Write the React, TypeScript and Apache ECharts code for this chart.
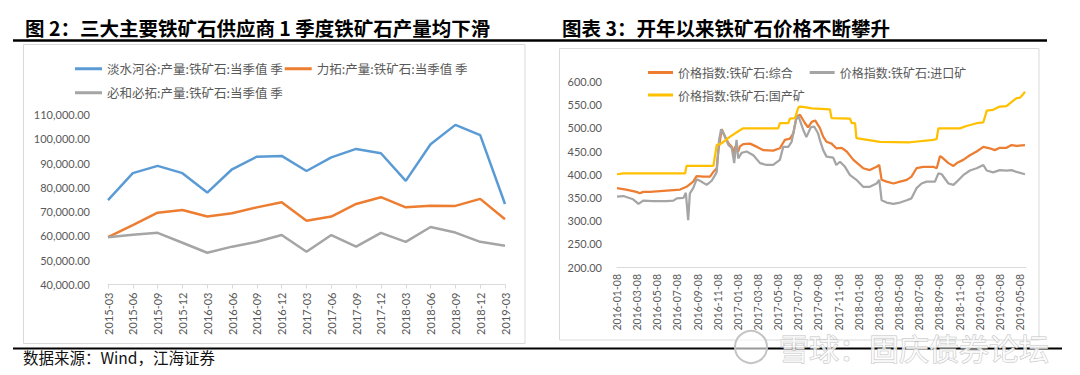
import React, { useEffect, useRef } from "react";
import * as echarts from "echarts";

// ---------- Left chart: quarterly output ----------
const quarters = [
  "2015-03", "2015-06", "2015-09", "2015-12", "2016-03", "2016-06", "2016-09", "2016-12",
  "2017-03", "2017-06", "2017-09", "2017-12", "2018-03", "2018-06", "2018-09", "2018-12", "2019-03",
];
const valeOutput = [74800, 85900, 88900, 85900, 77900, 87500, 92700, 93000, 86800, 92400, 95900, 94100, 82700, 97800, 105800, 101600, 73200];
const rioOutput = [59500, 64500, 69600, 70700, 68000, 69400, 71800, 73900, 66300, 68000, 73200, 76000, 71800, 72500, 72400, 75300, 66900];
const bhpOutput = [59500, 60500, 61300, 57200, 53100, 55600, 57600, 60400, 53500, 60400, 55600, 61300, 57600, 63700, 61400, 57600, 56000];

// ---------- Right chart: price indices ----------
const compositeDates = [
  "2016-01-08", "2016-02-05", "2016-03-06", "2016-03-16", "2016-03-26", "2016-04-16", "2016-07-16", "2016-08-05",
  "2016-08-25", "2016-09-05", "2016-09-25", "2016-10-15", "2016-10-25", "2016-11-05", "2016-11-10", "2016-11-20",
  "2016-11-30", "2016-12-10", "2016-12-20", "2016-12-25", "2016-12-30", "2017-01-09", "2017-01-14", "2017-01-24",
  "2017-02-14", "2017-03-05", "2017-03-24", "2017-04-23", "2017-05-13", "2017-05-28", "2017-06-13", "2017-06-23",
  "2017-07-03", "2017-07-13", "2017-07-28", "2017-08-07", "2017-08-18", "2017-08-28", "2017-09-12", "2017-09-22",
  "2017-10-02", "2017-10-17", "2017-11-01", "2017-11-17", "2017-12-02", "2017-12-22", "2018-01-21", "2018-02-11",
  "2018-03-01", "2018-03-09", "2018-03-16", "2018-03-31", "2018-04-21", "2018-05-11", "2018-05-31", "2018-06-15",
  "2018-06-30", "2018-07-20", "2018-08-20", "2018-08-30", "2018-09-10", "2018-09-15", "2018-10-05", "2018-10-20",
  "2018-10-30", "2018-11-19", "2018-12-09", "2018-12-29", "2019-01-19", "2019-02-08", "2019-02-23", "2019-03-08",
  "2019-03-28", "2019-04-13", "2019-04-28", "2019-05-23",
];
const compositeValues = [
  370, 367, 362, 359, 362, 362, 367, 373,
  384, 396, 395, 395, 405, 413, 452, 497,
  481, 467, 459, 445, 460, 449, 460, 465,
  466, 459, 452, 451, 456, 474, 477, 488,
  525, 528, 510, 501, 513, 516, 500, 481,
  470, 466, 456, 457, 449, 431, 413, 409,
  416, 420, 388, 384, 380, 384, 388, 395,
  413, 416, 416, 413, 439, 437, 424, 418,
  424, 431, 441, 449, 459, 456, 452, 457,
  457, 463, 461, 463,
];

const importDates = [
  "2016-01-08", "2016-01-27", "2016-02-26", "2016-03-12", "2016-03-26", "2016-04-26", "2016-06-06", "2016-06-26",
  "2016-07-06", "2016-07-26", "2016-08-03", "2016-08-10", "2016-08-15", "2016-08-25", "2016-09-05", "2016-09-15",
  "2016-10-05", "2016-10-20", "2016-10-30", "2016-11-05", "2016-11-12", "2016-11-18", "2016-11-25", "2016-12-10",
  "2016-12-20", "2016-12-27", "2017-01-04", "2017-01-09", "2017-01-19", "2017-02-04", "2017-02-24", "2017-03-14",
  "2017-04-03", "2017-04-23", "2017-05-13", "2017-05-23", "2017-06-08", "2017-06-18", "2017-07-01", "2017-07-08",
  "2017-07-23", "2017-08-02", "2017-08-15", "2017-08-25", "2017-09-07", "2017-09-12", "2017-09-22", "2017-10-02",
  "2017-10-22", "2017-11-01", "2017-11-12", "2017-11-27", "2017-12-12", "2018-01-01", "2018-01-21", "2018-02-11",
  "2018-03-01", "2018-03-09", "2018-03-16", "2018-03-31", "2018-04-21", "2018-05-11", "2018-05-31", "2018-06-15",
  "2018-06-30", "2018-07-15", "2018-07-30", "2018-08-25", "2018-09-05", "2018-09-15", "2018-10-05", "2018-10-20",
  "2018-10-30", "2018-11-19", "2018-12-09", "2018-12-29", "2019-01-19", "2019-01-29", "2019-02-18", "2019-03-08",
  "2019-03-28", "2019-04-13", "2019-04-28", "2019-05-23",
];
const importValues = [
  352, 353, 346, 336, 343, 342, 342, 343,
  348, 349, 360, 301, 359, 370, 389, 386,
  377, 386, 398, 405, 474, 497, 488, 463,
  456, 424, 474, 434, 446, 449, 441, 424,
  420, 420, 431, 459, 459, 470, 517, 526,
  495, 480, 501, 503, 488, 474, 452, 438,
  436, 420, 427, 416, 398, 388, 373, 373,
  380, 388, 344, 339, 336, 339, 344, 348,
  370, 380, 384, 384, 402, 400, 380, 377,
  384, 398, 408, 413, 420, 408, 404, 409,
  408, 409, 405, 400,
];

const domesticDates = [
  "2016-01-08", "2016-01-27", "2016-07-31", "2016-08-05", "2016-10-25", "2016-11-05", "2016-11-18", "2016-12-15",
  "2017-01-14", "2017-01-24", "2017-05-08", "2017-05-13", "2017-06-08", "2017-06-13", "2017-06-28", "2017-07-08",
  "2017-07-13", "2017-08-02", "2017-08-18", "2017-10-12", "2017-10-17", "2017-12-12", "2017-12-17", "2017-12-27",
  "2018-01-01", "2018-03-11", "2018-06-10", "2018-08-20", "2018-08-30", "2018-09-05", "2018-11-09", "2018-11-29",
  "2018-12-29", "2019-01-19", "2019-01-29", "2019-02-18", "2019-03-08", "2019-03-28", "2019-04-08", "2019-04-28",
  "2019-05-08", "2019-05-18", "2019-05-23",
];
const domesticValues = [
  400, 402, 402, 418, 418, 463, 466, 481,
  495, 499, 499, 510, 510, 520, 521, 544,
  546, 544, 542, 540, 521, 520, 510, 510,
  478, 470, 469, 474, 476, 499, 499, 504,
  510, 512, 537, 539, 546, 547, 553, 564,
  565, 573, 578,
];

const leftNames = ["淡水河谷:产量:铁矿石:当季值 季", "力拓:产量:铁矿石:当季值 季", "必和必拓:产量:铁矿石:当季值 季"];
const rightNames = ["价格指数:铁矿石:综合", "价格指数:铁矿石:进口矿", "价格指数:铁矿石:国产矿"];

const titleLeft = "图 2：三大主要铁矿石供应商 1 季度铁矿石产量均下滑";
const titleRight = "图表 3：开年以来铁矿石价格不断攀升";
const sourceText = "数据来源：Wind，江海证券";
const watermark = "雪球：固庆债券论坛";

// date -> months since 2016-01-08 (the axis base date)
function monthIndex(d: string): number {
  const [y, m, dd] = d.split("-").map(Number);
  return (y - 2016) * 12 + (m - 1) + (dd - 8) / 30;
}
function pad(n: number) {
  return n < 10 ? "0" + n : "" + n;
}
function zip(dates: string[], values: number[]) {
  return dates.map((d, i) => [monthIndex(d), values[i]]);
}

const CJK = '"Noto Sans CJK SC", "Noto Sans", sans-serif';
const LABEL = "#595959";
const AXIS = "#d9d9d9";

export default function App() {
  const ref = useRef<HTMLDivElement>(null);
  useEffect(() => {
    if (!ref.current) return;
    const chart = echarts.init(ref.current, undefined, { renderer: "svg" });
    const option: any = {
      animation: false,
      textStyle: { fontFamily: "Lato" },
      grid: [
        { left: 108, top: 114.7, width: 397, height: 169.8 },
        { left: 617, top: 81.5, width: 409, height: 185.5 },
      ],
      xAxis: [
        {
          type: "category",
          gridIndex: 0,
          data: quarters,
          boundaryGap: false,
          axisLine: { lineStyle: { color: AXIS, width: 1 } },
          axisTick: { show: true, length: 4, lineStyle: { color: AXIS } },
          axisLabel: { rotate: 90, interval: 0, fontSize: 11, color: LABEL, margin: 8, fontFamily: "Lato" },
          splitLine: { show: false },
        },
        {
          type: "value",
          gridIndex: 1,
          min: 0,
          max: 40.6,
          interval: 2,
          axisLine: { lineStyle: { color: AXIS, width: 1 } },
          axisTick: { show: false },
          splitLine: { show: false },
          axisLabel: {
            rotate: 90,
            fontSize: 10.5,
            color: LABEL,
            margin: 7,
            fontFamily: "Lato",
            formatter: (v: number) => {
              if (Math.abs(v - Math.round(v)) > 1e-6) return "";
              const k = Math.round(v);
              if (k % 2 !== 0) return "";
              const y = 2016 + Math.floor(k / 12);
              const m = (k % 12) + 1;
              return `${y}-${pad(m)}-08`;
            },
          },
        },
      ],
      yAxis: [
        {
          type: "value",
          gridIndex: 0,
          min: 40000,
          max: 110000,
          interval: 10000,
          axisLine: { show: false },
          axisTick: { show: false },
          splitLine: { show: false },
          axisLabel: {
            fontSize: 11,
            color: LABEL,
            margin: 18,
            fontFamily: "Lato",
            formatter: (v: number) => v.toLocaleString("en-US", { minimumFractionDigits: 2, maximumFractionDigits: 2 }),
          },
        },
        {
          type: "value",
          gridIndex: 1,
          min: 200,
          max: 600,
          interval: 50,
          axisLine: { show: false },
          axisTick: { show: false },
          splitLine: { show: false },
          axisLabel: {
            fontSize: 11,
            color: LABEL,
            margin: 15,
            fontFamily: "Lato",
            formatter: (v: number) => v.toFixed(2),
          },
        },
      ],
      legend: [
        {
          data: [leftNames[0], leftNames[1]],
          left: 70,
          top: 57.5,
          icon: "rect",
          itemWidth: 27,
          itemHeight: 3,
          itemGap: 2,
          selectedMode: false,
          textStyle: { fontSize: 12.5, color: LABEL, fontFamily: CJK },
        },
        {
          data: [leftNames[2]],
          left: 70,
          top: 81.5,
          icon: "rect",
          itemWidth: 27,
          itemHeight: 3,
          selectedMode: false,
          textStyle: { fontSize: 12.5, color: LABEL, fontFamily: CJK },
        },
        {
          data: [rightNames[0], rightNames[1]],
          left: 643,
          top: 61.5,
          icon: "rect",
          itemWidth: 25,
          itemHeight: 3,
          itemGap: 17,
          selectedMode: false,
          textStyle: { fontSize: 12, color: LABEL, fontFamily: CJK },
        },
        {
          data: [rightNames[2]],
          left: 643,
          top: 84,
          icon: "rect",
          itemWidth: 25,
          itemHeight: 3,
          selectedMode: false,
          textStyle: { fontSize: 12, color: LABEL, fontFamily: CJK },
        },
      ],
      series: [
        { name: leftNames[0], type: "line", xAxisIndex: 0, yAxisIndex: 0, data: valeOutput, symbol: "none", lineStyle: { width: 2.5, color: "#5b9bd5" }, itemStyle: { color: "#5b9bd5" } },
        { name: leftNames[1], type: "line", xAxisIndex: 0, yAxisIndex: 0, data: rioOutput, symbol: "none", lineStyle: { width: 2.5, color: "#ed7d31" }, itemStyle: { color: "#ed7d31" } },
        { name: leftNames[2], type: "line", xAxisIndex: 0, yAxisIndex: 0, data: bhpOutput, symbol: "none", lineStyle: { width: 2.5, color: "#a5a5a5" }, itemStyle: { color: "#a5a5a5" } },
        { name: rightNames[0], type: "line", xAxisIndex: 1, yAxisIndex: 1, data: zip(compositeDates, compositeValues), symbol: "none", lineStyle: { width: 2.25, color: "#ed7d31" }, itemStyle: { color: "#ed7d31" } },
        { name: rightNames[1], type: "line", xAxisIndex: 1, yAxisIndex: 1, data: zip(importDates, importValues), symbol: "none", lineStyle: { width: 2.25, color: "#a5a5a5" }, itemStyle: { color: "#a5a5a5" } },
        { name: rightNames[2], type: "line", xAxisIndex: 1, yAxisIndex: 1, data: zip(domesticDates, domesticValues), symbol: "none", lineStyle: { width: 2.25, color: "#ffc000" }, itemStyle: { color: "#ffc000" } },
      ],
      graphic: [
        { type: "rect", z: -10, shape: { x: 23.5, y: 44.5, width: 501.5, height: 299 }, style: { fill: "#fff", stroke: AXIS, lineWidth: 1 } },
        { type: "rect", z: -10, shape: { x: 559.5, y: 48.5, width: 479.5, height: 291.5 }, style: { fill: "#fff", stroke: AXIS, lineWidth: 1 } },
        { type: "line", shape: { x1: 13, y1: 40.5, x2: 1047, y2: 40.5 }, style: { stroke: "#000", lineWidth: 2.5 } },
        { type: "line", shape: { x1: 13, y1: 348.5, x2: 1062, y2: 348.5 }, style: { stroke: "#000", lineWidth: 2 } },
        { type: "text", x: 25, y: 27, style: { text: titleLeft, fontSize: 19.5, fontWeight: "bold", fontFamily: CJK, fill: "#000", verticalAlign: "middle" } },
        { type: "text", x: 562, y: 27, style: { text: titleRight, fontSize: 19.5, fontWeight: "bold", fontFamily: CJK, fill: "#000", verticalAlign: "middle" } },
        { type: "text", x: 23, y: 357, style: { text: sourceText, fontSize: 15.5, fontFamily: CJK, fill: "#111", verticalAlign: "middle" } },
        { type: "circle", z: 100, shape: { cx: 751, cy: 347, r: 16 }, style: { fill: "rgba(255,255,255,0.6)", stroke: "#c4c4c4", lineWidth: 2 } },
        { type: "text", z: 100, x: 779, y: 347, style: { text: watermark, fontSize: 30, fontFamily: CJK, fill: "rgba(255,255,255,0.75)", stroke: "#c4c4c4", lineWidth: 1, verticalAlign: "middle" } },
      ],
    };
    chart.setOption(option);
    return () => chart.dispose();
  }, []);
  return <div ref={ref} style={{ position: "absolute", left: 0, top: 0, width: 1080, height: 375 }} />;
}
